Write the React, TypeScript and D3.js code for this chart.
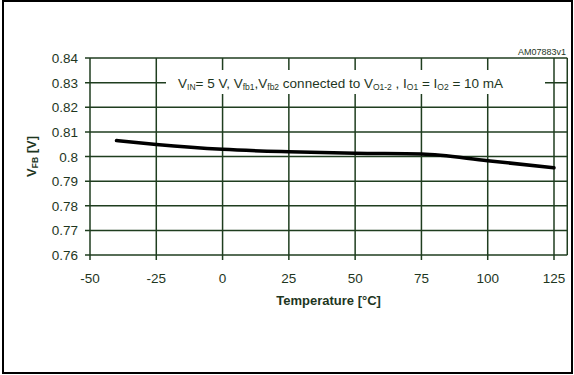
import React from 'react';
import * as d3 from 'd3';

const temps = [-40, -25, 0, 25, 50, 75, 100, 125];
const vfb = [0.8065, 0.8049, 0.8029, 0.8019, 0.8013, 0.801, 0.7983, 0.7954];
const xTicks = [-50, -25, 0, 25, 50, 75, 100, 125];
const yTicks = [0.76, 0.77, 0.78, 0.79, 0.8, 0.81, 0.82, 0.83, 0.84];
const yTickLabels = ['0.76', '0.77', '0.78', '0.79', '0.8', '0.81', '0.82', '0.83', '0.84'];

const GRID = '#1f3d1f';
const TEXT = '#1e361e';
const FONT = '"Liberation Sans", Arial, sans-serif';

export default function App() {
  const left = 90, top = 58, bottom = 255;
  const x = d3.scaleLinear().domain([-50, 130]).range([left, left + (554 - 90) * 180 / 175]);
  const y = d3.scaleLinear().domain([0.76, 0.84]).range([bottom, top]);
  const line = d3.line<number>().x((_, i) => x(temps[i])).y((d) => y(d)).curve(d3.curveMonotoneX);

  return (
    <svg width={574} height={375} style={{ position: 'absolute', left: 0, top: 0, background: '#fff' }} fontFamily={FONT}>
      <rect x={3} y={1} width={569} height={372} fill="#fff" stroke="#000" strokeWidth={2} />
      {yTicks.map((t) => (
        <line key={'h' + t} x1={x(-50) - 5} x2={x(130)} y1={y(t)} y2={y(t)} stroke={GRID} strokeWidth={1.5} />
      ))}
      {xTicks.map((t) => (
        <line key={'v' + t} x1={x(t)} x2={x(t)} y1={y(0.84)} y2={y(0.76) + 5} stroke={GRID} strokeWidth={1.5} />
      ))}
      <line x1={x(130)} x2={x(130)} y1={y(0.84)} y2={y(0.76)} stroke={GRID} strokeWidth={1.5} />
      <rect x={166} y={70} width={379} height={24} fill="#fff" />
      <text x={178} y={88} fontSize={13.5} fill={TEXT}>
        <tspan>V</tspan><tspan fontSize={8.5} dy={2}>IN</tspan>
        <tspan dy={-2}>= 5 V, V</tspan><tspan fontSize={8.5} dy={2}>fb1</tspan>
        <tspan dy={-2}>,V</tspan><tspan fontSize={8.5} dy={2}>fb2</tspan>
        <tspan dy={-2}> connected to V</tspan><tspan fontSize={8.5} dy={2}>O1-2</tspan>
        <tspan dy={-2}> , I</tspan><tspan fontSize={8.5} dy={2}>O1</tspan>
        <tspan dy={-2}> = I</tspan><tspan fontSize={8.5} dy={2}>O2</tspan>
        <tspan dy={-2}> = 10 mA</tspan>
      </text>
      <path d={line(vfb) || ''} fill="none" stroke="#000" strokeWidth={3.5} strokeLinecap="round" />
      {yTicks.map((t, i) => (
        <text key={'yl' + t} x={78} y={y(t) + 5} textAnchor="end" fontSize={13.5} fill={TEXT}>{yTickLabels[i]}</text>
      ))}
      {xTicks.map((t) => (
        <text key={'xl' + t} x={x(t)} y={283} textAnchor="middle" fontSize={13.5} fill={TEXT}>{String(t)}</text>
      ))}
      <text x={x(40)} y={305} textAnchor="middle" fontSize={13} fontWeight="bold" fill={TEXT}>Temperature [°C]</text>
      <text transform={`translate(36,${(top + bottom) / 2}) rotate(-90)`} textAnchor="middle" fontSize={13} fontWeight="bold" fill={TEXT}>
        <tspan>V</tspan><tspan fontSize={8.5} dy={2}>FB</tspan><tspan dy={-2}> [V]</tspan>
      </text>
      <text x={566} y={55} textAnchor="end" fontSize={9} fill={TEXT}>AM07883v1</text>
    </svg>
  );
}
